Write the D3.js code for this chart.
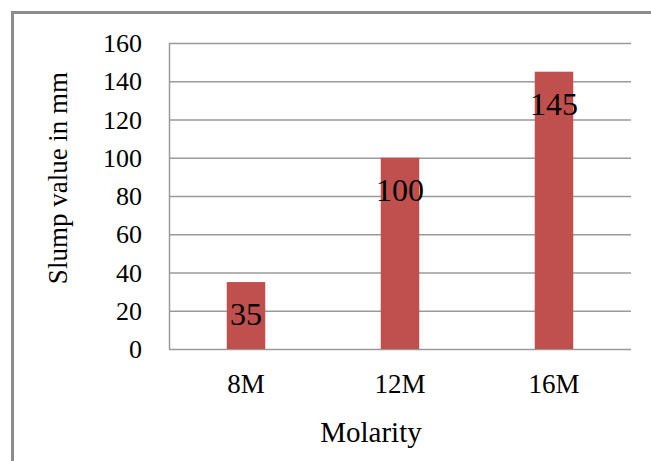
<!DOCTYPE html>
<html>
<head>
<meta charset="utf-8">
<script src="https://cdnjs.cloudflare.com/ajax/libs/d3/7.8.5/d3.min.js"></script>
<style>
  body { margin: 0; background: #fff; }
</style>
</head>
<body>
<script>
// chart data
const molarity = ["8M", "12M", "16M"];
const slump = [35, 100, 145];
const yTicks = [0, 20, 40, 60, 80, 100, 120, 140, 160];

const W = 651, H = 461;
const margin = {top: 43, right: 20, bottom: 112, left: 169};
const serif = "'Liberation Serif', 'DejaVu Serif', 'Times New Roman', serif";

const svg = d3.select("body").append("svg")
    .attr("width", W)
    .attr("height", H)
    .attr("font-family", serif)
    .style("font-family", serif);

// outer frame (only top and left edges are visible in the picture)
svg.append("path")
    .attr("d", "M12.5,461 L12.5,12.5 L651,12.5")
    .attr("fill", "none")
    .attr("stroke", "#8c8c8c")
    .attr("stroke-width", 3);

const x = d3.scaleBand()
    .domain(molarity)
    .range([margin.left, 631])
    .paddingInner(0.75)
    .paddingOuter(0.375);

const y = d3.scaleLinear()
    .domain([0, 160])
    .range([349, margin.top]);

// gridlines
svg.append("g").selectAll("line")
    .data(yTicks)
    .enter()
    .append("line")
    .attr("x1", margin.left)
    .attr("x2", 631)
    .attr("y1", d => y(d) + 0.5)
    .attr("y2", d => y(d) + 0.5)
    .attr("stroke", "#9a9a9a")
    .attr("stroke-width", 1.5);

// left axis line
svg.append("line")
    .attr("x1", margin.left + 0.5)
    .attr("x2", margin.left + 0.5)
    .attr("y1", y(160))
    .attr("y2", y(0))
    .attr("stroke", "#9a9a9a")
    .attr("stroke-width", 1.5);

// y tick labels
svg.append("g").selectAll("text")
    .data(yTicks)
    .enter()
    .append("text")
    .attr("x", 142)
    .attr("y", d => y(d))
    .attr("dy", "0.35em")
    .attr("text-anchor", "end")
    .style("font-size", "26px")
    .text(d => d);

// bars
svg.append("g").selectAll("rect")
    .data(slump)
    .enter()
    .append("rect")
    .attr("x", (d, i) => x(molarity[i]))
    .attr("y", d => y(d))
    .attr("width", x.bandwidth())
    .attr("height", d => y(0) - y(d))
    .attr("fill", "#c0504d");

// value labels
svg.append("g").selectAll("text")
    .data(slump)
    .enter()
    .append("text")
    .attr("x", (d, i) => x(molarity[i]) + x.bandwidth() / 2)
    .attr("y", d => y(d) + 43)
    .attr("text-anchor", "middle")
    .style("font-size", "32px")
    .text(d => d);

// x category labels
svg.append("g").selectAll("text")
    .data(molarity)
    .enter()
    .append("text")
    .attr("x", d => x(d) + x.bandwidth() / 2)
    .attr("y", 393)
    .attr("text-anchor", "middle")
    .style("font-size", "27px")
    .text(d => d);

// axis titles
svg.append("text")
    .attr("x", 371)
    .attr("y", 442)
    .attr("text-anchor", "middle")
    .style("font-size", "29px")
    .text("Molarity");

svg.append("text")
    .attr("transform", "translate(67,178) rotate(-90)")
    .attr("text-anchor", "middle")
    .style("font-size", "27px")
    .text("Slump value in mm");
</script>
</body>
</html>
